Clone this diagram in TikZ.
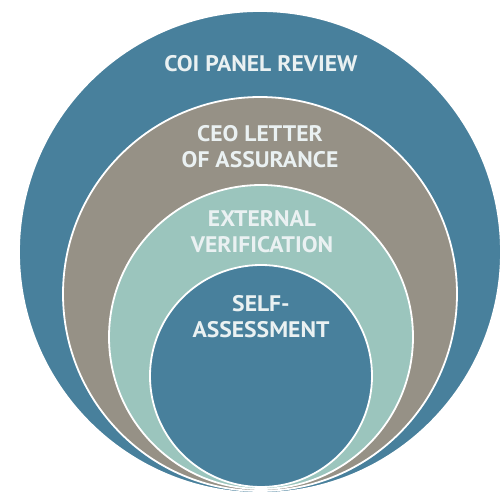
\documentclass[tikz,border=0pt]{standalone}
\usepackage{fontspec}
\setmainfont{PT Sans}

\definecolor{coiblue}{RGB}{72,128,156}
\definecolor{ceogray}{RGB}{150,145,134}
\definecolor{extteal}{RGB}{155,197,189}
\definecolor{labelwhite}{RGB}{234,241,242}

\begin{document}
\begin{tikzpicture}[x = 1pt, y = 1pt,
    ring/.style = {draw = white, line width = 1.8pt},
    ringtext/.style = {text = labelwhite, font = \bfseries\fontsize{22.5}{26}\selectfont, align = center, inner sep = 0pt, xscale = 1.05}]

    \useasboundingbox (0, 0) rectangle (504, 493);

    % outer to inner, all touching at the bottom
    \foreach \cx/\cy/\r/\c in {260/241/241/coiblue, 260/199/197/ceogray, 261/156/152/extteal, 261/117/111/coiblue} {
        \draw [ring, fill = \c] (\cx, \cy) circle (\r);
    }

    \node [ringtext] (coi) at (261, 429.5) {COI PANEL REVIEW};
    \node [ringtext] (ceo) at (260, 346.5) {CEO LETTER\\OF ASSURANCE};
    \node [ringtext] (ext) at (262, 261) {EXTERNAL\\VERIFICATION};
    \node [ringtext] (self) at (261, 176) {SELF-\\ASSESSMENT};

\end{tikzpicture}
\end{document}
